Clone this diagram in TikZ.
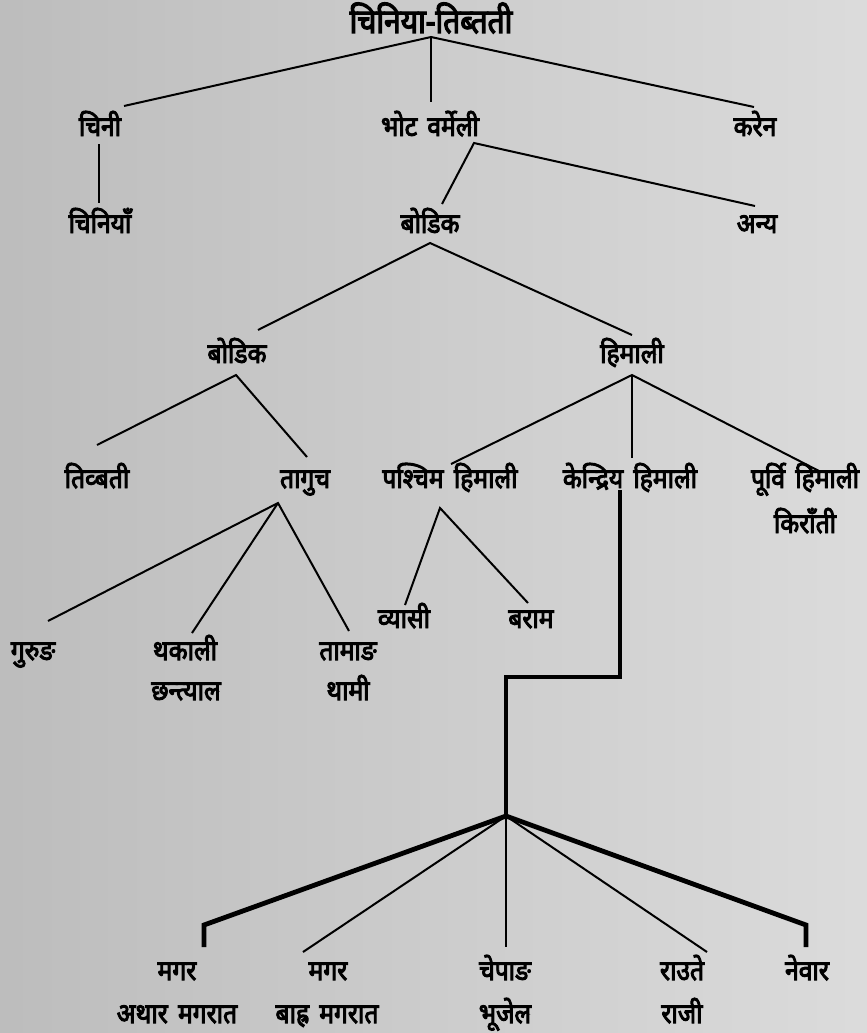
\documentclass[tikz,border=0pt]{standalone}
\usepackage{fontspec}
\newfontfamily\dev[Script=Devanagari,FakeStretch=0.88,FakeBold=3.5,WordSpace=1.6]{Noto Sans}
\begin{document}
\begin{tikzpicture}[x=1pt,y=-1pt,
  lbl/.style={font=\dev\fontsize{28}{30}\selectfont, inner sep=0pt, text=black, anchor=base},
  ttl/.style={font=\dev\fontsize{34}{36}\selectfont, inner sep=0pt, text=black, anchor=base},
  thin/.style={line width=2pt, black},
  thick/.style={line width=4.8pt, black, line join=miter}]
\shade[left color=black!26, right color=black!14] (0,0) rectangle (867,1033);
\useasboundingbox (0,0) rectangle (867,1033);
% labels (positions are baselines)
\node[ttl] (title) at (431,33) {चिनिया-तिब्तती};
\node[lbl] (chini) at (100,136) {चिनी};
\node[lbl] (bhot) at (430,136) {भोट वर्मेली};
\node[lbl] (karen) at (755,136) {करेन};
\node[lbl] (chiniyan) at (100,233) {चिनियाँ};
\node[lbl] (bodik1) at (430,233) {बोडिक};
\node[lbl] (anya) at (757,233) {अन्य};
\node[lbl] (bodik2) at (237,363) {बोडिक};
\node[lbl] (himali) at (632,363) {हिमाली};
\node[lbl] (tibbati) at (97,488) {तिव्बती};
\node[lbl] (taguch) at (305,488) {तागुच};
\node[lbl] (pashchim) at (450,488) {पश्चिम हिमाली};
\node[lbl] (kendriya) at (630,488) {केन्द्रिय हिमाली};
\node[lbl] (purvi) at (805,488) {पूर्वि हिमाली};
\node[lbl] (kiranti) at (805,533) {किराँती};
\node[lbl] (gurung) at (33,660) {गुरुङ};
\node[lbl] (thakali) at (185,660) {थकाली};
\node[lbl] (chhantyal) at (186,700) {छन्त्याल};
\node[lbl] (tamang) at (348,660) {तामाङ};
\node[lbl] (thami) at (348,700) {थामी};
\node[lbl] (byasi) at (404,628) {व्यासी};
\node[lbl] (baram) at (531,628) {बराम};
\node[lbl] (magar1) at (177,980) {मगर};
\node[lbl] (athar) at (177,1023) {अथार मगरात};
\node[lbl] (magar2) at (328,980) {मगर};
\node[lbl] (bahra) at (327,1023) {बाह्र मगरात};
\node[lbl] (chepang) at (505,980) {चेपाङ};
\node[lbl] (bhujel) at (505,1023) {भूजेल};
\node[lbl] (raute) at (682,980) {राउते};
\node[lbl] (raji) at (682,1023) {राजी};
\node[lbl] (newar) at (807,980) {नेवार};
% connector ends
\coordinate (t0) at (431,37); \coordinate (t1) at (124,106);
\coordinate (t2) at (431,102); \coordinate (t3) at (754,107);
\coordinate (c0) at (99,144); \coordinate (c1) at (99,203);
\coordinate (b0) at (474,143); \coordinate (b1) at (442,204); \coordinate (b2) at (755,206);
\coordinate (d0) at (430,243); \coordinate (d1) at (258,330); \coordinate (d2) at (632,335);
\coordinate (e0) at (236,375); \coordinate (e1) at (97,445); \coordinate (e2) at (307,457);
\coordinate (h0) at (632,375); \coordinate (h1) at (451,464); \coordinate (h2) at (632,458); \coordinate (h3) at (819,471);
\coordinate (g0) at (278,503); \coordinate (g1) at (48,621); \coordinate (g2) at (192,633); \coordinate (g3) at (349,631);
\coordinate (p0) at (440,508); \coordinate (p1) at (405,605); \coordinate (p2) at (528,603);
\coordinate (k0) at (620,490); \coordinate (k1) at (620,677); \coordinate (k2) at (506,677); \coordinate (hub) at (506,816);
\coordinate (m1a) at (204,925); \coordinate (m1b) at (204,947);
\coordinate (m2) at (303,952); \coordinate (m3) at (506,947); \coordinate (m4) at (707,952);
\coordinate (m5a) at (806,925); \coordinate (m5b) at (806,947);
% connectors
\draw[thin] (t1) -- (t0) -- (t3);
\draw[thin] (t0) -- (t2);
\draw[thin] (c0) -- (c1);
\draw[thin] (b1) -- (b0) -- (b2);
\draw[thin] (d1) -- (d0) -- (d2);
\draw[thin] (e1) -- (e0) -- (e2);
\draw[thin] (h1) -- (h0) -- (h3);
\draw[thin] (h0) -- (h2);
\draw[thin] (g1) -- (g0) -- (g3);
\draw[thin] (g0) -- (g2);
\draw[thin] (p1) -- (p0) -- (p2);
\draw[thick] (k0) -- (k1) -- (k2) -- (hub);
\draw[thick] (m1b) -- (m1a) -- (hub) -- (m5a) -- (m5b);
\draw[thin] (hub) -- (m2);
\draw[thin] (hub) -- (m3);
\draw[thin] (hub) -- (m4);
\end{tikzpicture}
\end{document}
